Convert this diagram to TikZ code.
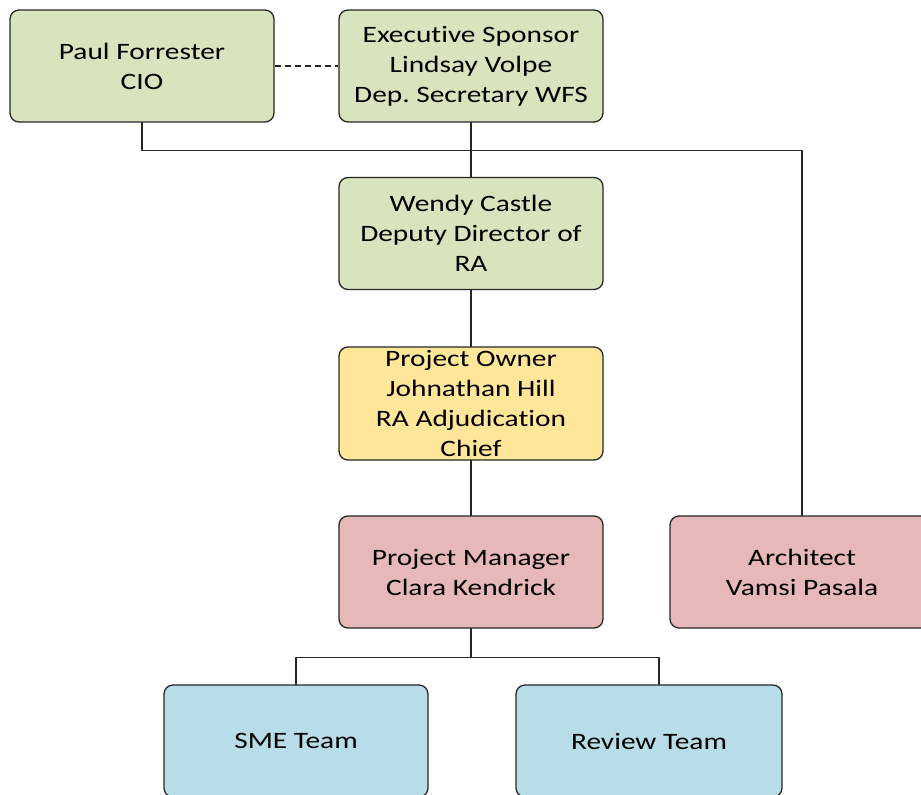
\documentclass[tikz,border=0pt]{standalone}
\usepackage{fontspec}
\setmainfont{Carlito}[FakeStretch=1.25, Ligatures={NoCommon}]
\frenchspacing
\definecolor{boxgreen}{HTML}{D7E4BD}
\definecolor{boxgold}{HTML}{FFE699}
\definecolor{boxred}{HTML}{E6B9B8}
\definecolor{boxblue}{HTML}{B7DEE8}
\begin{document}
\begin{tikzpicture}[x=1pt, y=-1pt, line join=round, line cap=round,
	font=\fontsize{23.5}{30}\selectfont,
	card/.style={draw=black!85, line width=1.3pt, rounded corners=9pt, align=center,
		minimum width=264pt, minimum height=112pt, inner sep=0pt},
	link/.style={line width=1.3pt, black!85}]
	\useasboundingbox (0,0) rectangle (921,795);
	% obere Reihe
	\node[card, fill=boxgreen] (paul) at (142,66) {Paul Forrester\\CIO};
	\node[card, fill=boxgreen] (exec) at (471,66) {Executive Sponsor\\Lindsay Volpe\\Dep. Secretary WFS};
	% Mitte
	\node[card, fill=boxgreen] (wendy) at (471,233.5) {Wendy Castle\\Deputy Director of\\RA};
	\node[card, fill=boxgold, minimum height=113pt] (owner) at (471,403.5) {Project Owner\\Johnathan Hill\\RA Adjudication\\Chief};
	\node[card, fill=boxred] (pm) at (471,572) {Project Manager\\Clara Kendrick};
	\node[card, fill=boxred] (arch) at (802,572) {Architect\\Vamsi Pasala};
	% Teams
	\node[card, fill=boxblue] (sme) at (296,741) {SME Team};
	\node[card, fill=boxblue, minimum width=266pt] (review) at (649,741) {Review Team};
	% Verbindungen
	\draw[link, dash pattern=on 6pt off 4pt, line cap=butt] (paul) -- (exec);
	\draw[link] (paul.south) -- ++(0,28) -| (arch.north);
	\draw[link] (exec.south) -- (wendy.north);
	\draw[link] (wendy.south) -- (owner.north);
	\draw[link] (owner.south) -- (pm.north);
	\draw[link] (pm.south) -- ++(0,28.7) coordinate (fork);
	\draw[link] (sme.north) |- (fork) -| ([xshift=10pt]review.north);
\end{tikzpicture}
\end{document}
